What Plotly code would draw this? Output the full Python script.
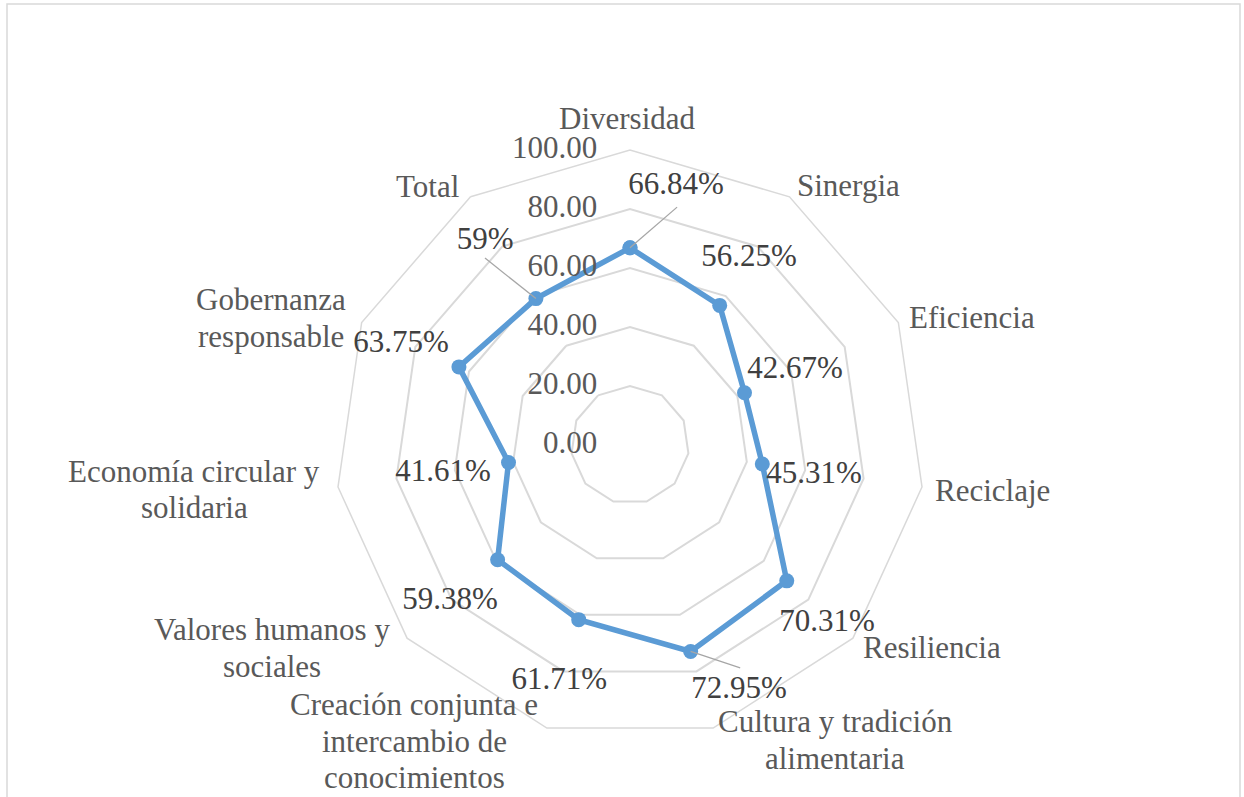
import math
import plotly.graph_objects as go

categories = ["Diversidad", "Sinergia", "Eficiencia", "Reciclaje", "Resiliencia",
              "Cultura y tradición<br>alimentaria",
              "Creación conjunta e<br>intercambio de<br>conocimientos",
              "Valores humanos y<br>sociales",
              "Economía circular y<br>solidaria",
              "Gobernanza<br>responsable", "Total"]
values = [66.84, 56.25, 42.67, 45.31, 70.31, 72.95, 61.71, 59.38, 41.61, 63.75, 59]
value_labels = ["66.84%", "56.25%", "42.67%", "45.31%", "70.31%", "72.95%",
                "61.71%", "59.38%", "41.61%", "63.75%", "59%"]
radial_ticks = [0, 20, 40, 60, 80, 100]
radial_tick_labels = ["0.00", "20.00", "40.00", "60.00", "80.00", "100.00"]

# label placement (layout only: polar coords of label centres)
label_r = [89.2, 75.1, 61.4, 63.2, 90.0, 90.9, 83.5, 80.7, 64.1, 84.8, 84.8]
label_theta = [10.1, 32.5, 65.6, 99.3, 132.1, 156.0, 196.7, 229.1, 261.5, 293.8, 324.6]
cat_label_r = [110.8, 114.8, 123.7, 124.0, 123.2, 121.8, 124.2, 139.5, 148.5, 129.1, 111.4]
cat_label_theta = [359.5, 40.1, 69.6, 97.1, 123.8, 145.2, 216.1, 240.45, 264.2, 289.5, 322.0]
# leader lines: index -> (r_end, theta_end)
leaders = {0: (82.2, 11.2), 5: (84.3, 153.7), 10: (80.2, 322.2)}

n = len(categories)
step = 360.0 / n
angles = [i * step for i in range(n)]

FONT = "Liberation Serif, Times New Roman, serif"
GRID = "#d9d9d9"
FS = 31
LINE_H = 36.5
W, H = 1244, 797
CX, CY, RAD = 630, 352, 295  # polar centre / radius in px (paper, from bottom-left)

fig = go.Figure()

fig.add_trace(go.Scatterpolar(
    r=values + [values[0]], theta=categories + [categories[0]],
    mode="lines+markers",
    line=dict(color="#5b9bd5", width=5.5),
    marker=dict(color="#5b9bd5", size=15),
    subplot="polar", showlegend=False, hoverinfo="skip"))

for i, (re, te) in leaders.items():
    fig.add_trace(go.Scatterpolar(
        r=[values[i], re], theta=[angles[i], te], mode="lines",
        line=dict(color="#a6a6a6", width=1.3),
        subplot="polar2", showlegend=False, hoverinfo="skip"))

# data labels
fig.add_trace(go.Scatterpolar(
    r=label_r, theta=label_theta, mode="text", text=value_labels,
    textposition="middle center", cliponaxis=False,
    textfont=dict(family=FONT, size=FS, color="#404040"),
    subplot="polar2", showlegend=False, hoverinfo="skip"))

# radial tick labels (left of the vertical axis)
fig.add_trace(go.Scatterpolar(
    r=radial_ticks, theta=[0] * len(radial_ticks), mode="markers+text",
    text=radial_tick_labels, textposition="middle left", cliponaxis=False,
    marker=dict(size=51, opacity=0),
    textfont=dict(family=FONT, size=FS, color="#595959"),
    subplot="polar2", showlegend=False, hoverinfo="skip"))

# category labels outside the outer ring (annotations placed from polar coords)
annotations = []
for txt, rr, th in zip(categories, cat_label_r, cat_label_theta):
    t = math.radians(th)
    px = CX + rr / 100 * RAD * math.sin(t)
    py = CY + rr / 100 * RAD * math.cos(t)
    lines = txt.split("<br>")
    m = len(lines)
    for k, ln in enumerate(lines):
        ly = py + ((m - 1) / 2 - k) * LINE_H
        annotations.append(dict(
            xref="paper", yref="paper", x=px / W, y=ly / H,
            text=ln, showarrow=False, xanchor="center", yanchor="middle",
            align="center", font=dict(family=FONT, size=FS, color="#595959")))

dom_x = [(CX - RAD) / W, (CX + RAD) / W]
dom_y = [(CY - RAD) / H, (CY + RAD) / H]

fig.update_layout(
    width=W, height=H,
    margin=dict(l=0, r=0, t=0, b=0),
    paper_bgcolor="white",
    font=dict(family=FONT, size=FS, color="#595959"),
    polar=dict(
        domain=dict(x=dom_x, y=dom_y),
        bgcolor="rgba(0,0,0,0)",
        gridshape="linear",
        angularaxis=dict(direction="clockwise", rotation=90, showgrid=False,
                         showline=True, linecolor=GRID, linewidth=1.5,
                         ticks="", showticklabels=False),
        radialaxis=dict(range=[0, 100], tickvals=radial_ticks,
                        angle=90, showticklabels=False, ticks="",
                        showline=False, gridcolor=GRID, gridwidth=1.5),
    ),
    polar2=dict(
        domain=dict(x=dom_x, y=dom_y),
        bgcolor="rgba(0,0,0,0)",
        angularaxis=dict(direction="clockwise", rotation=90, visible=False),
        radialaxis=dict(range=[0, 100], visible=False),
    ),
    annotations=annotations,
    shapes=[dict(type="rect", xref="paper", yref="paper",
                 x0=7 / W, x1=1240 / W, y0=-0.02, y1=(H - 4) / H,
                 line=dict(color=GRID, width=1.5), fillcolor="rgba(0,0,0,0)")],
)

fig.write_html("out.html", config={"displayModeBar": False},
               post_script="document.body.style.margin='0px';")
